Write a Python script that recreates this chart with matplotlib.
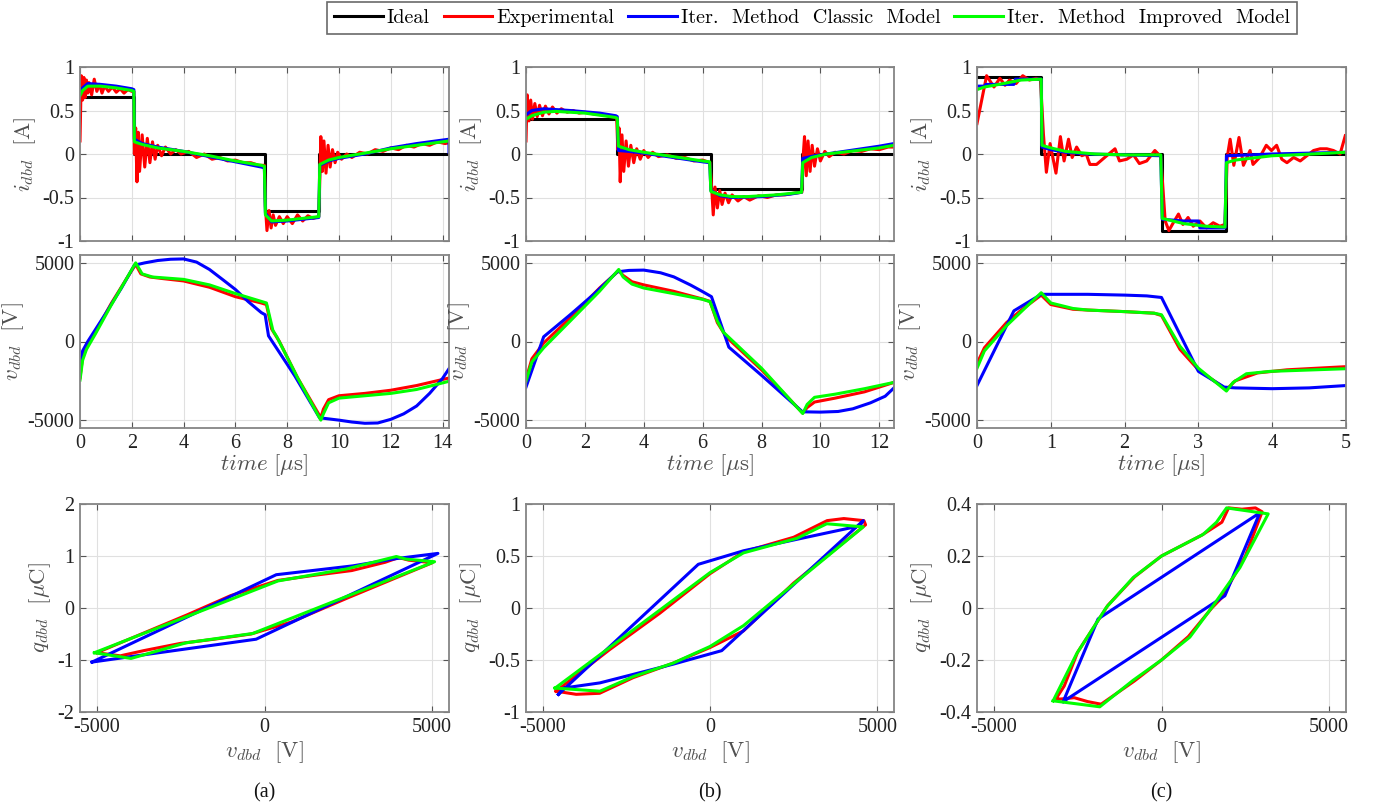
import numpy as np
import matplotlib
matplotlib.use("Agg")
from matplotlib import pyplot as plt

plt.rcParams['mathtext.fontset'] = 'cm'
plt.rcParams['axes.unicode_minus'] = False
plt.rcParams['font.family'] = 'Liberation Serif'

# ---------------- column (a) ----------------
t_ideal_a = [0, 2.08, 2.08, 7.14, 7.14, 9.24, 9.24, 14.25]
i_ideal_a = [0.65, 0.65, 0, 0, -0.65, -0.65, 0, 0]

t_exp_a = [0, 0.05, 0.1, 0.15, 0.2, 0.25, 0.3, 0.35, 0.45, 0.55, 0.65, 0.75, 0.85,
           0.95, 1.1, 1.25, 1.4, 1.55, 1.7, 1.85, 2.0, 2.08,
           2.1, 2.15, 2.2, 2.25, 2.3, 2.4, 2.5, 2.6, 2.7, 2.8, 2.9, 3.0, 3.15, 3.3,
           3.5, 3.7, 3.9, 4.2, 4.5, 4.8, 5.1, 5.4, 5.7, 6.0, 6.3, 6.6, 6.9, 7.12,
           7.16, 7.22, 7.3, 7.38, 7.46, 7.55, 7.7, 7.85, 8.0, 8.2, 8.4, 8.6, 8.8,
           9.0, 9.22,
           9.26, 9.3, 9.36, 9.42, 9.5, 9.58, 9.66, 9.75, 9.85, 9.95, 10.1, 10.3,
           10.5, 10.8, 11.1, 11.4, 11.7, 12.0, 12.3, 12.6, 12.9, 13.2, 13.5, 13.8,
           14.1, 14.25]
i_exp_a = [0.15, 0.9, 0.62, 0.88, 0.65, 0.85, 0.7, 0.82, 0.68, 0.86, 0.72, 0.8, 0.7,
           0.78, 0.72, 0.77, 0.71, 0.75, 0.7, 0.74, 0.72, 0.72,
           0.0, 0.3, -0.32, 0.25, -0.2, 0.22, -0.15, 0.18, -0.1, 0.14, -0.06, 0.1,
           -0.02, 0.08, 0.0, 0.05, 0.0, 0.03, -0.04, 0.0, -0.06, -0.04, -0.08,
           -0.07, -0.1, -0.1, -0.13, -0.13,
           -0.6, -0.88, -0.65, -0.85, -0.7, -0.82, -0.72, -0.8, -0.72, -0.8, -0.7,
           -0.77, -0.71, -0.74, -0.72,
           -0.3, 0.2, -0.2, 0.15, -0.22, 0.1, -0.15, 0.05, -0.1, 0.02, -0.06, 0.0,
           -0.04, 0.02, 0.0, 0.05, 0.03, 0.07, 0.05, 0.1, 0.08, 0.12, 0.1, 0.14,
           0.12, 0.13]

t_cls_a = [0, 0.1, 0.3, 0.8, 1.4, 2.0, 2.08, 2.1, 2.4, 3.0, 4.0, 5.0, 6.0, 7.0,
           7.12, 7.16, 7.4, 8.0, 8.6, 9.22, 9.26, 9.6, 10.0, 11.0, 12.0, 13.0,
           14.0, 14.25, 14.25]
i_cls_a = [0.7, 0.76, 0.81, 0.8, 0.78, 0.75, 0.74, 0.17, 0.12, 0.08, 0.03, -0.03,
           -0.09, -0.15, -0.16, -0.68, -0.78, -0.77, -0.75, -0.73, -0.13, -0.08,
           -0.05, 0.0, 0.07, 0.12, 0.16, 0.17, 0.02]

t_imp_a = [0, 0.1, 0.3, 0.8, 1.4, 2.0, 2.08, 2.1, 2.4, 3.0, 4.0, 5.0, 6.0, 7.0,
           7.12, 7.16, 7.4, 8.0, 8.6, 9.22, 9.26, 9.6, 10.0, 11.0, 12.0, 13.0,
           14.0, 14.25]
i_imp_a = [0.67, 0.73, 0.78, 0.78, 0.76, 0.73, 0.72, 0.14, 0.11, 0.07, 0.03, -0.02,
           -0.08, -0.13, -0.14, -0.7, -0.77, -0.76, -0.74, -0.72, -0.12, -0.07,
           -0.04, 0.01, 0.06, 0.1, 0.14, 0.15]

tv_exp_a = [0, 0.1, 0.3, 0.6, 1.2, 1.8, 2.15, 2.35, 2.7, 3.2, 4.0, 5.0, 6.0, 7.0,
            7.2, 7.4, 7.7, 8.4, 9.3, 9.4, 9.6, 10.0, 11.0, 12.0, 13.0, 14.25]
v_exp_a = [-2300, -1000, -200, 600, 2400, 4000, 4900, 4300, 4100, 4000, 3850, 3450,
           2850, 2450, 2350, 800, 0, -2300, -4850, -4300, -3700, -3450, -3300,
           -3100, -2800, -2320]

tv_cls_a = [0, 0.1, 0.3, 1.0, 1.6, 2.1, 2.5, 3.0, 3.5, 4.0, 4.5, 5.0, 5.5, 6.0,
            6.5, 7.0, 7.15, 7.28, 8.3, 9.25, 10.0, 10.5, 11.0, 11.5, 12.0, 12.5,
            13.0, 13.5, 14.0, 14.25]
v_cls_a = [-1700, -600, 0, 1800, 3400, 4850, 5000, 5150, 5230, 5250, 5050, 4580,
           3950, 3310, 2530, 1840, 1700, 360, -2200, -4850, -5000, -5120, -5200,
           -5180, -4950, -4600, -4100, -3300, -2350, -1730]

tv_imp_a = [0, 0.1, 0.25, 0.6, 1.2, 1.8, 2.15, 2.4, 2.8, 3.2, 4.0, 5.0, 6.0, 7.0,
            7.2, 7.45, 7.6, 8.4, 9.3, 9.4, 9.6, 10.0, 11.0, 12.0, 13.0, 14.25]
v_imp_a = [-2450, -1200, -500, 500, 2300, 4000, 5000, 4300, 4100, 4050, 3950, 3600,
           3050, 2550, 2450, 700, 300, -2300, -5000, -4600, -3900, -3600, -3450,
           -3300, -3050, -2530]

qv_exp_a = [-5000, -2300, -1000, 400, 1500, 2600, 3600, 4000, 4300, 5000, 2500,
            800, -400, -1500, -2500, -3600, -4300, -5000]
q_exp_a = [-0.86, -0.13, 0.24, 0.53, 0.63, 0.72, 0.88, 0.97, 0.92, 0.87, 0.2,
           -0.27, -0.5, -0.6, -0.68, -0.82, -0.92, -0.86]
qv_cls_a = [-5140, 350, 2630, 3930, 5170, -250, -3930, -5140]
q_cls_a = [-1.04, 0.64, 0.81, 0.95, 1.05, -0.6, -0.93, -1.04]
qv_imp_a = [-5070, 400, 2440, 3930, 4220, 5070, -350, -2340, -3980, -5070]
q_imp_a = [-0.86, 0.52, 0.75, 0.99, 0.94, 0.89, -0.49, -0.67, -0.97, -0.86]

# ---------------- column (b) ----------------
t_ideal_b = [0, 3.1, 3.1, 6.27, 6.27, 9.39, 9.39, 12.5]
i_ideal_b = [0.4, 0.4, 0, 0, -0.4, -0.4, 0, 0]

t_exp_b = [0, 0.04, 0.1, 0.16, 0.22, 0.3, 0.38, 0.46, 0.56, 0.66, 0.78, 0.9, 1.05,
           1.2, 1.4, 1.6, 1.8, 2.0, 2.3, 2.6, 2.9, 3.08,
           3.12, 3.16, 3.2, 3.26, 3.32, 3.4, 3.48, 3.56, 3.66, 3.76, 3.88, 4.0,
           4.15, 4.3, 4.5, 4.8, 5.1, 5.4, 5.7, 6.0, 6.25,
           6.3, 6.36, 6.42, 6.5, 6.58, 6.66, 6.76, 6.88, 7.0, 7.2, 7.4, 7.6, 7.9,
           8.2, 8.5, 8.8, 9.1, 9.37,
           9.42, 9.46, 9.52, 9.58, 9.65, 9.72, 9.8, 9.9, 10.0, 10.15, 10.3, 10.5,
           10.8, 11.1, 11.4, 11.7, 12.0, 12.3, 12.5]
i_exp_b = [0.15, 0.68, 0.38, 0.62, 0.4, 0.58, 0.43, 0.56, 0.44, 0.55, 0.46, 0.54,
           0.47, 0.52, 0.48, 0.5, 0.47, 0.48, 0.46, 0.45, 0.43, 0.42,
           0.05, 0.3, -0.32, 0.22, -0.2, 0.15, -0.14, 0.1, -0.1, 0.06, -0.06, 0.04,
           -0.04, 0.02, -0.03, -0.01, -0.05, -0.04, -0.08, -0.07, -0.1,
           -0.35, -0.7, -0.38, -0.62, -0.42, -0.58, -0.45, -0.56, -0.47, -0.54,
           -0.49, -0.53, -0.48, -0.5, -0.47, -0.47, -0.45, -0.44,
           0.0, 0.2, -0.25, 0.15, -0.2, 0.1, -0.14, 0.06, -0.08, 0.03, -0.03, 0.02,
           0.0, 0.04, 0.03, 0.06, 0.05, 0.08, 0.08]

t_cls_b = [0, 0.2, 0.6, 1.5, 2.5, 3.05, 3.1, 3.14, 3.5, 4.0, 5.0, 6.0, 6.24, 6.28,
           6.6, 7.0, 8.0, 9.0, 9.36, 9.4, 9.8, 10.2, 11.0, 12.0, 12.5]
i_cls_b = [0.45, 0.5, 0.52, 0.5, 0.47, 0.44, 0.43, 0.04, 0.03, 0.01, -0.04, -0.09,
           -0.1, -0.42, -0.48, -0.5, -0.49, -0.46, -0.44, -0.05, -0.02, 0.0, 0.04,
           0.09, 0.12]

t_imp_b = [0, 0.2, 0.6, 1.0, 2.0, 3.05, 3.1, 3.14, 3.5, 4.0, 5.0, 6.0, 6.24, 6.28,
           6.6, 7.0, 7.5, 8.5, 9.36, 9.4, 9.7, 10.2, 11.0, 12.0, 12.5]
i_imp_b = [0.4, 0.44, 0.48, 0.49, 0.47, 0.42, 0.41, 0.09, 0.05, 0.02, -0.03, -0.08,
           -0.09, -0.43, -0.47, -0.49, -0.49, -0.47, -0.44, -0.1, -0.04, 0.0, 0.03,
           0.07, 0.1]

tv_exp_b = [0, 0.2, 0.6, 1.5, 2.5, 3.15, 3.3, 3.6, 4.0, 5.0, 6.0, 6.25, 6.5, 6.8,
            8.0, 9.4, 9.55, 9.8, 10.5, 11.5, 12.5]
v_exp_b = [-2400, -1100, -100, 1500, 3400, 4500, 4200, 3800, 3600, 3200, 2700, 2550,
           1200, 300, -1800, -4550, -4200, -3850, -3600, -3200, -2600]
tv_cls_b = [0, 0.6, 1.5, 2.3, 3.1, 3.5, 4.0, 4.57, 5.02, 5.59, 6.0, 6.3, 6.89, 8.0,
            9.39, 10.0, 10.6, 11.1, 11.7, 12.2, 12.5]
v_cls_b = [-2900, 300, 1700, 3000, 4430, 4520, 4540, 4370, 4110, 3590, 3170, 2850,
           -360, -2150, -4470, -4490, -4450, -4280, -3900, -3480, -2950]
tv_imp_b = [0, 0.2, 0.6, 1.5, 2.5, 3.15, 3.3, 3.6, 4.0, 5.0, 6.0, 6.25, 6.5, 6.7,
            8.0, 9.4, 9.55, 9.8, 10.5, 11.5, 12.5]
v_imp_b = [-2530, -1300, -400, 1300, 3200, 4580, 4100, 3650, 3400, 3050, 2680, 2530,
           1300, 600, -1700, -4580, -4000, -3550, -3350, -3000, -2600]

qv_exp_b = [-4600, -3000, -1500, 0, 1000, 2500, 3500, 4000, 4600, 4650, 2500, 1000,
            500, 0, -1100, -2300, -3300, -4000, -4600]
q_exp_b = [-0.8, -0.4, -0.05, 0.33, 0.54, 0.68, 0.84, 0.86, 0.84, 0.8, 0.24, -0.22,
           -0.3, -0.38, -0.53, -0.67, -0.82, -0.83, -0.8]
qv_cls_b = [-4530, -350, 1000, 2590, 4480, 4580, 350, -1100, -3290, -4380, -4530]
q_cls_b = [-0.83, 0.42, 0.55, 0.66, 0.79, 0.84, -0.41, -0.54, -0.72, -0.77, -0.83]
qv_imp_b = [-4630, -3000, -1500, 0, 1000, 2600, 3490, 4580, 2500, 1000, 0, -1100,
            -2300, -3290, -4630]
q_imp_b = [-0.77, -0.38, -0.02, 0.34, 0.53, 0.67, 0.81, 0.78, 0.23, -0.17, -0.37,
           -0.53, -0.66, -0.8, -0.77]

# ---------------- column (c) ----------------
t_ideal_c = [0, 0.87, 0.87, 2.5, 2.5, 3.37, 3.37, 5]
i_ideal_c = [0.88, 0.88, 0, 0, -0.88, -0.88, 0, 0]

t_exp_c = [0, 0.13, 0.23, 0.31, 0.38, 0.44, 0.53, 0.62, 0.71, 0.8, 0.86, 0.9, 0.94,
           0.99, 1.07, 1.13, 1.18, 1.24, 1.29, 1.35, 1.42, 1.48, 1.53, 1.62, 1.73,
           1.87, 1.93, 2.03, 2.12, 2.2, 2.3, 2.41, 2.49, 2.55, 2.6, 2.66, 2.73,
           2.79, 2.86, 2.93, 3.02, 3.11, 3.2, 3.29, 3.36, 3.39, 3.43, 3.48, 3.55,
           3.61, 3.7, 3.74, 3.83, 3.92, 3.99, 4.06, 4.13, 4.2, 4.29, 4.38, 4.47,
           4.56, 4.65, 4.74, 4.83, 4.92, 4.99]
i_exp_c = [0.35, 0.9, 0.77, 0.87, 0.79, 0.85, 0.81, 0.9, 0.85, 0.87, 0.85, 0.23,
           -0.21, 0.12, -0.22, 0.2, -0.08, 0.17, -0.04, 0.08, -0.02, 0.0, -0.12,
           -0.12, -0.04, 0.06, -0.08, -0.06, -0.01, -0.11, -0.08, 0.04, -0.03,
           -0.77, -0.88, -0.79, -0.69, -0.81, -0.73, -0.83, -0.77, -0.85, -0.79,
           -0.83, -0.81, -0.04, 0.17, -0.13, 0.19, -0.13, 0.04, -0.12, -0.04, 0.1,
           0.04, 0.1, -0.06, -0.1, -0.04, -0.08, -0.02, 0.04, 0.06, 0.06, 0.04,
           0.0, 0.21]

t_cls_c = [0, 0.1, 0.12, 0.5, 0.52, 0.87, 0.88, 1.0, 1.2, 1.5, 2.0, 2.49, 2.51,
           2.8, 3.0, 3.02, 3.36, 3.38, 3.7, 4.0, 4.5, 5.0]
i_cls_c = [0.78, 0.78, 0.8, 0.8, 0.86, 0.86, 0.08, 0.05, 0.02, 0.0, -0.01, -0.02,
           -0.75, -0.77, -0.77, -0.85, -0.85, -0.02, -0.01, 0.0, 0.01, 0.02]

t_imp_c = [0, 0.1, 0.3, 0.6, 0.87, 0.88, 1.0, 1.2, 1.6, 2.0, 2.49, 2.51, 2.8, 3.1,
           3.36, 3.38, 3.5, 3.7, 4.0, 4.3, 5.0]
i_imp_c = [0.74, 0.77, 0.8, 0.85, 0.86, 0.1, 0.07, 0.03, 0.0, -0.01, -0.01, -0.74,
           -0.8, -0.83, -0.84, -0.1, -0.07, -0.05, -0.02, -0.01, 0.02]

tv_exp_c = [0, 0.1, 0.25, 0.4, 0.6, 0.87, 1.0, 1.3, 1.5, 2.0, 2.4, 2.5, 2.75, 3.0,
            3.38, 3.5, 3.8, 4.2, 5.0]
v_exp_c = [-1400, -400, 400, 1200, 2000, 2950, 2350, 2050, 2000, 1900, 1800, 1650,
           -500, -1800, -3050, -2500, -2000, -1800, -1600]
tv_cls_c = [0, 0.5, 0.87, 1.5, 2.0, 2.3, 2.5, 3.0, 3.35, 3.5, 4.0, 4.5, 5.0]
v_cls_c = [-2800, 1950, 3000, 3000, 2950, 2900, 2800, -1900, -2900, -2950, -3000,
           -2950, -2800]
tv_imp_c = [0, 0.1, 0.25, 0.4, 0.6, 0.87, 1.0, 1.3, 1.5, 2.0, 2.4, 2.5, 2.75, 3.0,
            3.38, 3.47, 3.65, 3.97, 5.0]
v_imp_c = [-1700, -600, 200, 1000, 1900, 3100, 2450, 2100, 2000, 1900, 1800, 1700,
           -300, -1700, -3150, -2600, -2050, -1900, -1730]

qv_exp_c = [-3150, -2900, -2500, -1600, -800, 0, 1200, 1800, 2000, 2400, 2800, 3000,
            2500, 1800, 1500, 800, 0, -800, -1800, -2200, -2600, -3000, -3150]
q_exp_c = [-0.35, -0.3, -0.17, 0.01, 0.12, 0.2, 0.28, 0.33, 0.385, 0.38, 0.385,
           0.37, 0.2, 0.04, 0.0, -0.11, -0.2, -0.28, -0.37, -0.36, -0.345, -0.35,
           -0.35]
qv_cls_c = [-2930, -1890, 2930, 1890, -2930]
q_cls_c = [-0.36, -0.042, 0.366, 0.047, -0.36]
qv_imp_c = [-3230, -2530, -1640, -845, 0, 1240, 1640, 1940, 3180, 2340, 1540, 845,
            0, -845, -1840, -3230]
q_imp_c = [-0.357, -0.176, 0.003, 0.117, 0.2, 0.283, 0.33, 0.385, 0.362, 0.156,
           0.009, -0.112, -0.2, -0.278, -0.38, -0.357]

labels = ['Ideal', 'Experimental', 'Iter.  Method  Classic  Model',
          'Iter.  Method  Improved  Model']
colors = ['k', (1, 0, 0), (0, 0, 1), (0, 1, 0)]

W, H = 1377, 809
fig = plt.figure(figsize=(W / 100, H / 100), dpi=100)

cols = [(80, 449), (526, 894), (977, 1346)]
rows = [(67, 241), (255, 428), (504, 712)]


def add_ax(col, row):
    x0, x1 = cols[col]
    y0, y1 = rows[row]
    ax = fig.add_axes([x0 / W, 1 - y1 / H, (x1 - x0) / W, (y1 - y0) / H])
    ax.grid(True, color='#e0e0e0', linewidth=0.8)
    ax.set_axisbelow(True)
    for s in ax.spines.values():
        s.set_color('#858585')
        s.set_linewidth(1.3)
    ax.tick_params(direction='in', length=4, width=0.8, color='#555555',
                   top=True, right=True, labelsize=14.5, labelcolor='#222222',
                   pad=4)
    return ax


lab_kw = dict(fontsize=16.5, color='#505050')
lw = 2.2

current = [
    (t_ideal_a, i_ideal_a, t_exp_a, i_exp_a, t_cls_a, i_cls_a, t_imp_a, i_imp_a),
    (t_ideal_b, i_ideal_b, t_exp_b, i_exp_b, t_cls_b, i_cls_b, t_imp_b, i_imp_b),
    (t_ideal_c, i_ideal_c, t_exp_c, i_exp_c, t_cls_c, i_cls_c, t_imp_c, i_imp_c),
]
voltage = [
    (tv_exp_a, v_exp_a, tv_cls_a, v_cls_a, tv_imp_a, v_imp_a),
    (tv_exp_b, v_exp_b, tv_cls_b, v_cls_b, tv_imp_b, v_imp_b),
    (tv_exp_c, v_exp_c, tv_cls_c, v_cls_c, tv_imp_c, v_imp_c),
]
loops = [
    (qv_exp_a, q_exp_a, qv_cls_a, q_cls_a, qv_imp_a, q_imp_a),
    (qv_exp_b, q_exp_b, qv_cls_b, q_cls_b, qv_imp_b, q_imp_b),
    (qv_exp_c, q_exp_c, qv_cls_c, q_cls_c, qv_imp_c, q_imp_c),
]
t_max = [14.25, 12.5, 5]
t_ticks = [np.arange(0, 15, 2), np.arange(0, 13, 2), np.arange(0, 6, 1)]
q_lim = [2, 1, 0.4]
q_ticks = [np.arange(-2, 2.5, 1), np.arange(-1, 1.1, 0.5), np.arange(-0.4, 0.41, 0.2)]
q_ticklabels = [['-2', '-1', '0', '1', '2'],
                ['-1', '-0.5', '0', '0.5', '1'],
                ['-0.4', '-0.2', '0', '0.2', '0.4']]
sub = ['(a)', '(b)', '(c)']
handles = []

for c in range(3):
    ti, ii, te, ie, tc, ic, tm, im = current[c]
    ax = add_ax(c, 0)
    h0, = ax.plot(ti, ii, color=colors[0], lw=lw)
    h1, = ax.plot(te, ie, color=colors[1], lw=lw)
    h2, = ax.plot(tc, ic, color=colors[2], lw=lw)
    h3, = ax.plot(tm, im, color=colors[3], lw=lw)
    if c == 0:
        handles = [h0, h1, h2, h3]
    ax.set_xlim(0, t_max[c])
    ax.set_ylim(-1, 1)
    ax.set_xticks(t_ticks[c])
    ax.set_xticklabels([])
    ax.set_yticks([-1, -0.5, 0, 0.5, 1])
    ax.set_yticklabels(['-1', '-0.5', '0', '0.5', '1'])
    ax.set_ylabel(r'$i_{dbd}\ \ [\mathrm{A}]$', labelpad=3, **lab_kw)

    te, ve, tc, vc, tm, vm = voltage[c]
    ax = add_ax(c, 1)
    ax.plot(te, ve, color=colors[1], lw=lw)
    ax.plot(tc, vc, color=colors[2], lw=lw)
    ax.plot(tm, vm, color=colors[3], lw=lw)
    ax.set_xlim(0, t_max[c])
    ax.set_ylim(-5500, 5500)
    ax.set_xticks(t_ticks[c])
    ax.set_yticks([-5000, 0, 5000])
    ax.set_ylabel(r'$v_{dbd}\ \ [\mathrm{V}]$', labelpad=1, **lab_kw)
    ax.set_xlabel(r'$time\ [\mu\mathrm{s}]$', labelpad=0, **lab_kw)

    ve, qe, vc, qc, vm, qm = loops[c]
    ax = add_ax(c, 2)
    ax.plot(ve, qe, color=colors[1], lw=lw)
    ax.plot(vc, qc, color=colors[2], lw=lw)
    ax.plot(vm, qm, color=colors[3], lw=lw)
    ax.set_xlim(-5500, 5500)
    ax.set_ylim(-q_lim[c], q_lim[c])
    ax.set_xticks([-5000, 0, 5000])
    ax.set_yticks(q_ticks[c])
    ax.set_yticklabels(q_ticklabels[c])
    ax.set_ylabel(r'$q_{dbd}\ \ [\mu\mathrm{C}]$', labelpad=3, **lab_kw)
    ax.set_xlabel(r'$v_{dbd}\ \ [\mathrm{V}]$', labelpad=2, **lab_kw)
    x0, x1 = cols[c]
    fig.text((x0 + x1) / 2 / W, 1 - 793 / H, sub[c], ha='center', va='center',
             fontsize=14.5, color='#111111')

leg = fig.legend(handles, labels, loc='upper center',
                 bbox_to_anchor=(812 / W, 1 - 2 / H), ncol=4,
                 prop={'family': 'cmr10', 'size': 14.5}, frameon=True,
                 fancybox=False, edgecolor='#444444', handlelength=2.4,
                 handletextpad=0.2, columnspacing=0.7, borderpad=0.35,
                 borderaxespad=0)
leg.get_frame().set_linewidth(1.2)

fig.savefig('out.png', dpi=100)
